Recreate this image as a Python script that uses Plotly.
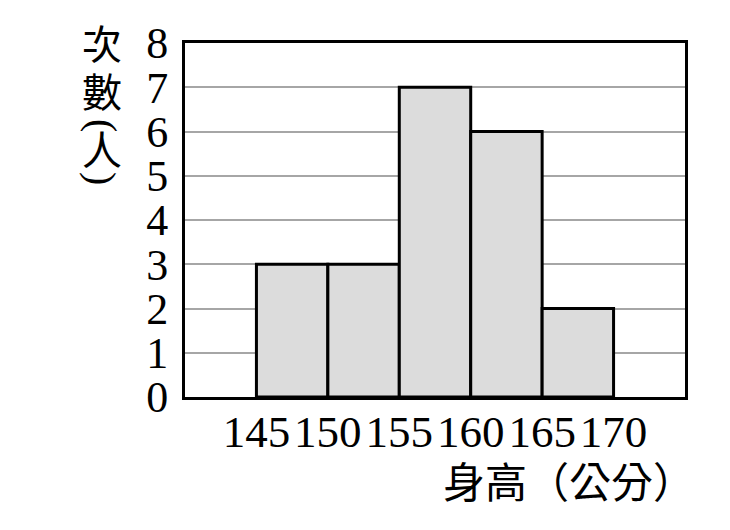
import plotly.graph_objects as go

# height bins (cm) and number of people in each bin
bin_edges = [145, 150, 155, 160, 165, 170]
counts = [3, 3, 7, 6, 2]
tick_labels = ["145", "150", "155", "160", "165", "170"]
y_ticks = [0, 1, 2, 3, 4, 5, 6, 7, 8]

x_title = "身高（公分）"
y_title_chars = ["次", "數", "(", "人", ")"]

W, H = 730, 530
# the page adds an 8px body margin, so the plot box is placed 8px up/left
OFF = 8
L, R, T, B = 185 - OFF, 685 - OFF, 43 - OFF, 397 - OFF

centers = [(a + b) / 2 for a, b in zip(bin_edges[:-1], bin_edges[1:])]
widths = [b - a for a, b in zip(bin_edges[:-1], bin_edges[1:])]

serif = "Liberation Serif, Times New Roman, serif"
cjk = "Noto Sans CJK TC, Noto Sans CJK SC, sans-serif"


def px_to_paper(x, y):
    # picture pixels -> paper coords
    x, y = x - OFF, y - OFF
    return (x - L) / (R - L), (B - y) / (B - T)


fig = go.Figure()
fig.add_trace(
    go.Bar(
        x=centers,
        y=counts,
        width=widths,
        marker=dict(color="#dcdcdc", line=dict(color="black", width=3)),
        hoverinfo="x+y",
    )
)

fig.update_layout(
    width=W,
    height=H,
    margin=dict(l=L, r=W - R, t=T, b=H - B, pad=0),
    plot_bgcolor="white",
    paper_bgcolor="white",
    showlegend=False,
    xaxis=dict(
        range=[140, 175],
        tickvals=bin_edges,
        ticktext=tick_labels,
        tickfont=dict(family=serif, size=45, color="black"),
        showgrid=False,
        zeroline=False,
        showline=True,
        mirror=True,
        linecolor="black",
        linewidth=3,
        ticks="",
        ticklabelstandoff=-7,
        automargin=False,
    ),
    yaxis=dict(
        range=[0, 8],
        tickvals=y_ticks,
        tickfont=dict(family=serif, size=44, color="black"),
        showgrid=True,
        gridcolor="#a6a6a6",
        gridwidth=2,
        zeroline=False,
        showline=True,
        mirror=True,
        linecolor="black",
        linewidth=3,
        ticks="",
        ticklabelstandoff=5,
        automargin=False,
    ),
)

# x axis title, right aligned under the ticks
xp, yp = px_to_paper(697, 479)
fig.add_annotation(
    text=x_title, x=xp, y=yp, xref="paper", yref="paper",
    xanchor="right", yanchor="middle", showarrow=False,
    font=dict(family=cjk, size=42, color="black"),
)

# y axis title written vertically
char_y = [42, 90, 125, 148, 178]
for ch, cy in zip(y_title_chars, char_y):
    xp, yp = px_to_paper(102, cy)
    is_paren = ch in "()"
    fig.add_annotation(
        text=ch, x=xp, y=yp, xref="paper", yref="paper",
        xanchor="center", yanchor="middle", showarrow=False,
        textangle=90 if is_paren else 0,
        font=dict(family=serif if is_paren else cjk, size=40, color="black"),
    )

fig.write_html("out.html")
